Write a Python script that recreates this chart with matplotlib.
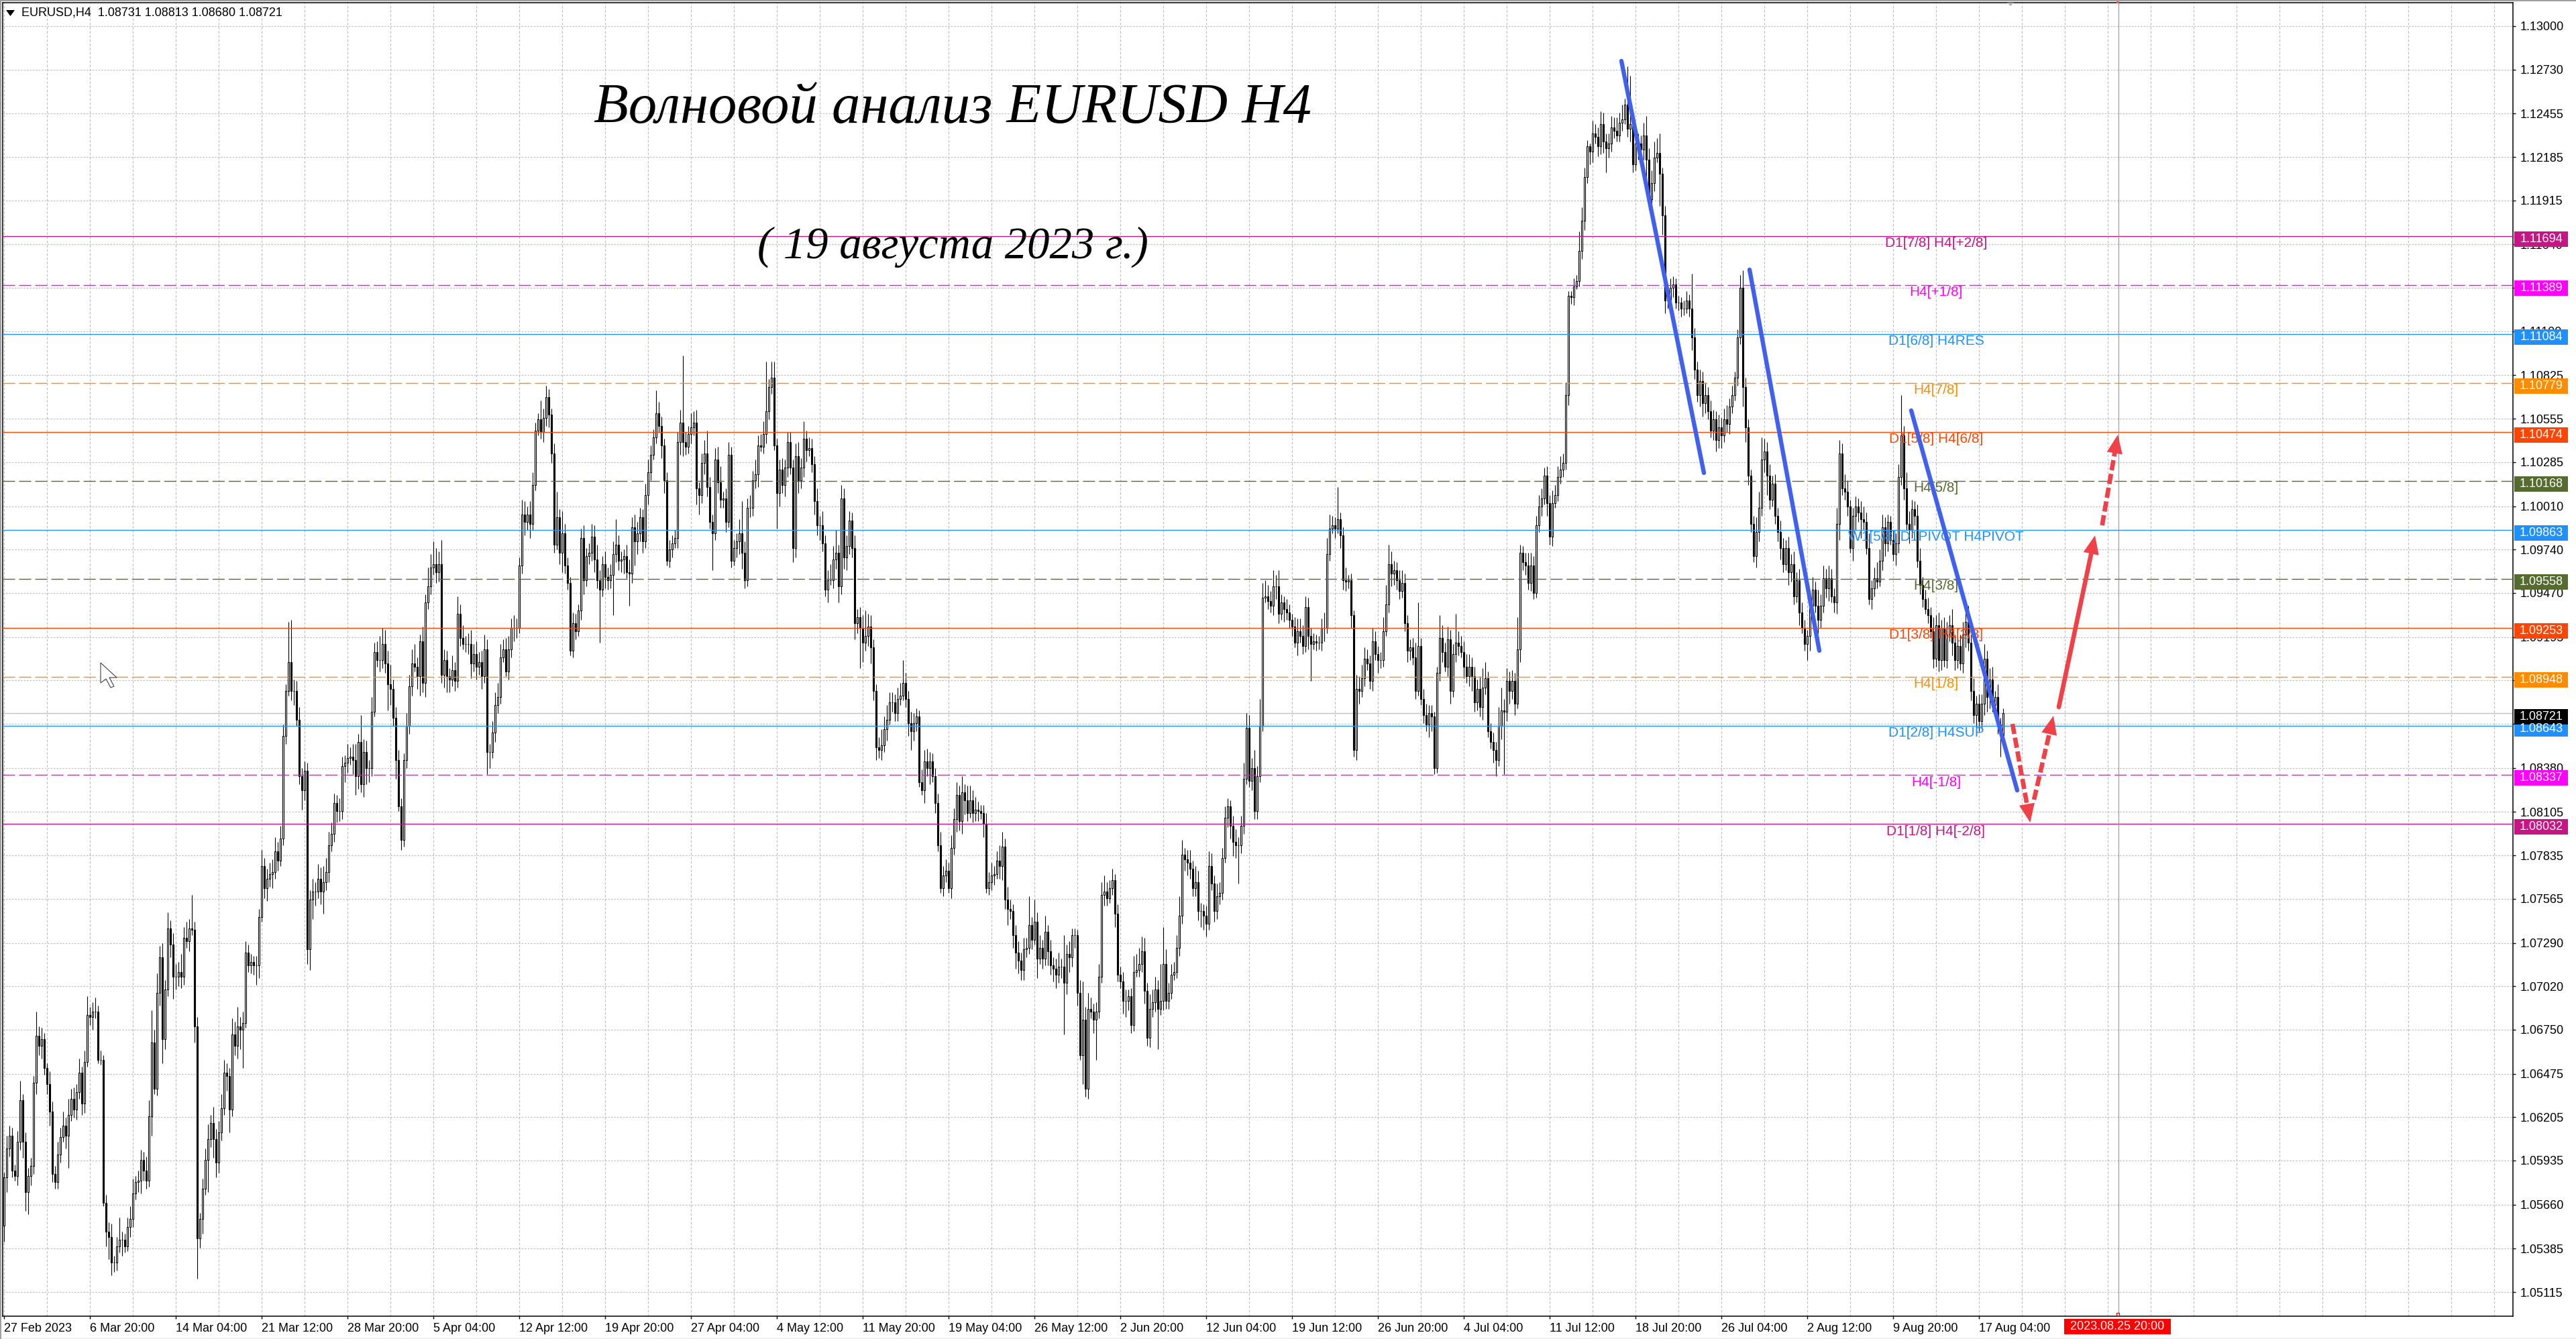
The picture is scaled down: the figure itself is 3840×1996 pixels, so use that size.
import numpy as np
import matplotlib
matplotlib.use("Agg")
import matplotlib.pyplot as plt
from matplotlib.patches import Rectangle, Polygon
from matplotlib.transforms import IdentityTransform

plt.rcParams['font.family'] = ['Liberation Sans', 'DejaVu Sans']
plt.rcParams['lines.scale_dashes'] = False

W, H = 3840, 1996

# closes of the H4 bars, in pips (10583 = 1.0583)
closes = [
    10583,10601,10609,10587,10584,10605,10631,10605,10574,10584,10590,10642,10671,10665,10669,10651,10641,10624,10585,10580,
    10597,10608,10615,10609,10622,10632,10625,10636,10648,10629,10655,10684,10683,10686,10686,10656,10656,10567,10549,10546,
    10530,10530,10540,10544,10544,10540,10552,10557,10573,10580,10581,10594,10587,10581,10621,10667,10638,10698,10720,10669,
    10700,10738,10728,10708,10708,10711,10708,10732,10730,10738,10737,10677,10545,10557,10576,10594,10607,10617,10607,10592,
    10611,10626,10648,10646,10625,10672,10665,10677,10675,10679,10723,10715,10717,10715,10715,10745,10777,10763,10769,10772,
    10773,10786,10780,10794,10858,10886,10904,10886,10886,10868,10833,10824,10836,10725,10756,10761,10761,10769,10761,10767,
    10773,10790,10797,10816,10811,10811,10839,10841,10844,10845,10843,10833,10854,10828,10848,10838,10838,10873,10910,10905,
    10905,10915,10903,10890,10887,10869,10843,10814,10793,10843,10864,10889,10903,10901,10895,10917,10891,10941,10951,10963,
    10965,10960,10965,10896,10905,10895,10893,10899,10892,10934,10919,10915,10915,10915,10903,10909,10901,10904,10895,10912,
    10848,10848,10860,10877,10882,10907,10912,10898,10912,10925,10925,10925,10964,10996,10991,10996,10990,11014,11048,11055,
    11047,11056,11069,11058,11034,10977,10994,10972,10984,10964,10953,10911,10928,10923,10936,10981,10955,10970,10972,10982,
    10968,10955,10949,10965,10957,10955,10958,10971,10977,10967,10968,10970,10960,10959,10988,10979,10984,10994,10979,11008,
    11022,11033,11044,11059,11051,11039,11017,10967,10974,10978,10981,11041,11053,11041,11038,11046,11050,11053,11012,11008,
    11028,11034,11013,10991,10984,11030,11016,11005,11006,10991,11033,10967,10975,10979,10984,10972,10955,11000,11000,11017,
    11021,11039,11038,11046,11060,11075,11081,11039,11009,11024,11014,11025,11041,11025,10975,11032,11017,11025,11043,11036,
    11037,11027,11004,10989,10989,10978,10949,10955,10955,10968,10972,10951,11006,10969,10976,10992,10975,10928,10932,10925,
    10916,10920,10926,10913,10886,10851,10849,10852,10862,10868,10879,10879,10872,10881,10883,10891,10881,10866,10861,10866,
    10870,10829,10824,10842,10838,10842,10833,10816,10790,10763,10771,10774,10763,10788,10806,10821,10805,10823,10818,10810,
    10818,10810,10812,10811,10810,10803,10763,10767,10771,10772,10780,10777,10789,10756,10750,10749,10734,10723,10718,10712,
    10725,10726,10740,10731,10742,10719,10726,10719,10736,10724,10715,10713,10709,10714,10714,10704,10722,10720,10734,10734,
    10698,10659,10681,10638,10688,10686,10681,10686,10708,10759,10761,10757,10763,10768,10747,10709,10705,10693,10693,10696,
    10678,10711,10712,10716,10724,10699,10670,10688,10692,10700,10688,10693,10716,10693,10698,10709,10711,10726,10746,10784,
    10781,10779,10775,10763,10767,10749,10749,10746,10741,10777,10766,10749,10758,10760,10782,10807,10814,10802,10792,10790,
    10790,10802,10831,10863,10830,10838,10811,10833,10864,10944,10945,10942,10939,10951,10951,10934,10941,10937,10935,10930,
    10926,10916,10923,10920,10914,10938,10920,10915,10917,10916,10916,10925,10925,10971,10987,10989,10987,10993,10983,10955,
    10954,10955,10933,10849,10887,10886,10894,10906,10903,10892,10917,10909,10905,10905,10923,10940,10965,10959,10961,10955,
    10948,10953,10928,10911,10913,10907,10886,10914,10881,10871,10865,10872,10870,10838,10897,10919,10910,10901,10918,10886,
    10909,10916,10914,10910,10901,10895,10901,10895,10879,10887,10876,10888,10894,10861,10854,10849,10843,10864,10874,10873,
    10892,10886,10892,10878,10912,10972,10966,10964,10953,10964,10947,10989,11001,11006,11020,11003,10982,11003,11008,11019,
    11024,11028,11070,11132,11131,11138,11141,11160,11179,11206,11225,11222,11233,11231,11225,11239,11228,11224,11227,11237,
    11235,11232,11240,11242,11251,11236,11239,11214,11227,11227,11223,11232,11217,11192,11202,11218,11221,11208,11182,11129,
    11129,11137,11139,11128,11128,11124,11124,11129,11124,11106,11086,11070,11079,11065,11070,11060,11048,11055,11042,11050,
    11045,11055,11052,11063,11070,11081,11106,11137,11075,11050,11020,10990,10970,10985,11000,11030,11035,11020,11005,11015,
    10995,10985,10975,10965,10975,10960,10965,10945,10955,10935,10925,10915,10920,10939,10949,10939,10930,10939,10956,10950,
    10956,10945,10941,10990,11034,11012,11010,11001,10975,10995,11001,10997,10993,10991,10975,10943,10950,10956,10954,10967,
    10988,10978,10991,10980,10971,10978,11019,11045,11012,10990,10986,10999,10995,10967,10952,10943,10937,10933,10923,10906,
    10927,10905,10925,10905,10921,10927,10916,10905,10914,10903,10921,10929,10916,10886,10871,10878,10867,10878,10906,10882,
    10893,10877,10882,10865,10858,10872,
]
# wick lengths above and below each body, in pips
up_wick = [
    3,8,6,5,4,7,12,4,6,5,5,4,15,6,7,4,3,8,6,5, 8,6,9,5,10,6,7,5,9,4,7,12,5,6,9,4,6,3,5,6,
    8,4,6,14,5,4,6,8,9,4,6,6,5,9,10,20,8,12,7,9, 6,10,5,7,8,6,11,7,10,6,21,5,6,4,6,7,9,5,10,6,
    7,9,8,6,5,10,8,12,6,7,7,5,5,4,6,5,10,5,6,7, 8,9,6,8,7,4,25,26,7,6,8,5,6,5,6,8,6,9,7,10,
    9,8,7,6,5,8,6,5,9,6,8,10,5,17,8,7,5,9,6,7, 15,10,9,8,12,6,7,6,5,4,8,7,9,12,6,4,9,5,12,8,
    14,10,8,15,7,6,5,9,5,11,6,8,5,7,9,6,8,6,7,9, 6,5,7,8,9,8,6,7,8,6,8,6,5,9,8,5,8,8,5,4,
    12,6,7,5,4,6,16,5,14,6,5,4,7,6,4,6,8,5,6,8, 7,9,6,5,8,6,7,8,16,6,5,4,7,8,6,8,7,6,5,7,
    8,6,5,14,7,6,4,5,6,5,5,6,8,42,6,5,9,7,8,4, 6,8,14,6,5,7,8,10,4,6,8,5,5,5,9,20,7,6,8,6,
    9,6,7,8,31,5,10,10,4,6,7,5,6,6,5,8,9,6,11,5, 7,6,5,8,6,9,5,6,10,8,14,5,8,6,7,6,5,8,5,6,
    8,16,8,7,5,4,6,10,8,9,6,6,5,7,8,14,6,5,7,6, 5,4,8,7,8,6,5,5,6,8,6,7,5,8,7,8,6,10,5,9,
    9,6,8,5,4,5,7,6,8,5,6,10,9,5,8,6,4,6,7,5, 7,6,18,5,14,6,8,5,10,4,7,5,6,9,5,20,6,8,4,4,
    3,8,24,8,10,7,5,6,8,8,10,6,5,7,4,6,5,6,7,4, 5,10,10,10,9,8,5,9,8,8,6,23,23,9,6,7,6,8,12,9,
    4,6,8,5,10,7,5,4,6,9,8,5,8,7,6,7,5,4,6,8, 5,6,10,9,8,6,11,6,17,9,10,7,6,10,7,10,5,4,6,5,
    4,6,8,8,7,7,6,5,5,4,4,6,10,10,9,6,5,20,4,5, 8,3,4,3,9,8,8,7,6,5,8,6,5,5,9,12,12,8,6,5,
    6,8,6,5,5,6,9,27,5,6,7,5,5,3,4,14,8,6,8,6, 6,18,7,6,7,8,8,6,6,6,8,12,10,4,5,6,5,12,14,7,
    8,6,7,5,20,5,4,6,8,8,6,6,7,6,5,6,5,8,6,7, 8,6,8,3,3,5,4,12,8,6,4,2,8,6,6,8,7,5,6,7,
    6,8,6,9,4,24,30,5,8,6,5,8,12,7,8,10,9,12,4,6, 7,6,5,4,4,3,5,6,4,22,6,5,7,6,8,5,7,6,5,8,
    6,7,9,5,6,4,5,8,11,6,5,4,5,9,10,14,8,6,7,5, 6,5,7,6,5,7,6,8,5,7,6,5,4,6,8,5,10,7,8,6,
    8,6,5,10,8,6,9,7,4,5,6,5,7,8,6,9,5,7,10,7, 8,6,5,4,6,6,8,25,6,10,8,6,5,7,8,5,6,7,5,9,
    6,8,5,7,8,6,10,5,6,7,8,6,10,5,8,5,6,6,9,5, 7,8,4,8,4,3,
]
down_wick = [
    10,9,5,4,3,6,5,10,12,14,6,5,7,6,8,4,6,9,5,4, 4,5,3,8,20,4,5,6,4,7,6,3,5,8,4,2,3,2,9,14,
    8,6,5,4,10,4,3,6,5,4,6,8,6,5,4,12,3,4,8,15, 6,4,8,14,8,6,7,5,4,6,3,10,25,6,9,4,20,5,12,9,
    6,5,4,9,14,4,6,8,12,24,3,4,5,6,12,8,3,6,8,5, 9,4,6,3,4,5,3,6,9,4,5,12,6,9,13,12,9,4,8,14,
    5,6,4,5,7,6,5,10,6,4,9,12,8,5,8,10,9,5,3,4, 7,5,6,16,10,5,12,3,6,4,5,5,6,3,8,12,6,9,4,5,
    5,7,6,5,8,10,8,4,6,4,5,3,5,6,9,5,8,5,8,4, 14,10,4,6,5,4,3,3,5,5,8,6,3,5,8,5,9,4,3,3,
    4,6,5,8,6,5,3,7,12,5,4,3,4,5,3,6,9,4,5,5, 8,5,33,4,7,6,5,25,5,6,7,9,4,20,6,15,8,5,7,4,
    6,5,3,4,4,8,8,3,4,5,3,6,8,9,5,4,6,5,10,12, 5,7,6,4,23,4,7,5,5,6,3,4,3,6,8,10,5,4,6,5,
    5,8,3,4,6,5,4,3,22,8,5,7,6,4,9,6,8,5,6,7, 4,5,8,6,9,5,4,8,3,5,6,10,5,7,8,5,6,10,6,25,
    12,5,6,10,6,8,5,6,4,7,3,6,5,5,4,3,5,8,12,6, 5,3,3,8,5,10,4,6,4,3,5,4,3,6,4,8,6,8,9,5,
    3,6,5,6,4,8,3,4,5,6,3,8,9,6,10,5,8,10,8,6, 6,5,4,6,3,12,3,6,4,9,6,8,8,5,7,32,7,9,6,8,
    8,3,18,5,6,4,8,25,4,4,7,5,3,4,8,4,4,8,10,6, 5,4,3,4,5,8,5,6,5,6,25,4,6,5,5,4,3,4,5,5,
    7,8,6,5,5,6,10,9,8,4,4,7,5,5,4,3,6,8,9,8, 24,5,5,3,4,6,5,5,4,3,3,5,4,6,8,6,4,8,5,5,
    6,3,8,4,5,4,8,23,3,5,4,5,8,3,4,3,6,3,8,6, 6,4,8,4,6,8,4,5,4,5,6,4,8,5,4,3,5,8,7,6,
    5,4,5,7,6,5,5,3,4,5,4,8,9,4,3,5,6,3,6,8, 4,5,6,3,7,4,6,9,6,5,6,8,4,4,4,8,10,4,8,39,
    6,8,5,7,3,8,5,6,4,5,4,3,4,6,4,8,5,6,3,4, 4,5,4,6,4,5,2,3,5,6,4,8,7,4,6,5,7,15,6,5,
    5,4,4,5,3,5,8,5,4,10,4,6,18,6,7,5,3,20,12,8, 5,4,6,4,5,5,4,3,5,8,6,4,7,8,6,5,4,6,7,5,
    8,4,5,6,4,3,5,4,12,9,6,5,4,7,6,5,8,12,6,4, 5,6,7,5,4,8,6,5,4,8,3,4,10,9,6,4,8,5,4,6,
    8,4,6,7,10,4,5,6,3,8,9,6,12,5,4,3,6,5,4,3, 6,8,5,3,4,7,6,5,7,4,8,5,6,4,6,5,3,5,4,6,
    5,7,6,4,5,4,8,6,5,4,6,8,5,6,5,8,6,5,7,9, 7,4,5,6,13,4,
]

price_ticks = [1.13000,1.12730,1.12455,1.12185,1.11915,1.11640,1.11370,1.11100,1.10825,1.10555,
               1.10285,1.10010,1.09740,1.09470,1.09195,1.08925,1.08655,1.08380,1.08105,1.07835,
               1.07565,1.07290,1.07020,1.06750,1.06475,1.06205,1.05935,1.05660,1.05385,1.05115]
date_labels = ["27 Feb 2023","6 Mar 20:00","14 Mar 04:00","21 Mar 12:00","28 Mar 20:00","5 Apr 04:00",
               "12 Apr 12:00","19 Apr 20:00","27 Apr 04:00","4 May 12:00","11 May 20:00","19 May 04:00",
               "26 May 12:00","2 Jun 20:00","12 Jun 04:00","19 Jun 12:00","26 Jun 20:00","4 Jul 04:00",
               "11 Jul 12:00","18 Jul 20:00","26 Jul 04:00","2 Aug 12:00","9 Aug 20:00","17 Aug 04:00"]

level_prices = [1.11694,1.11389,1.11084,1.10779,1.10474,1.10168,1.09863,1.09558,1.09253,1.08948,1.08643,1.08337,1.08032]
level_colors = ['#C71585','#FF00FF','#1E90FF','#FF8C00','#FF4500','#556B2F','#1E90FF','#556B2F','#FF4500','#FF8C00','#1E90FF','#FF00FF','#C71585']
level_dashed = [False,True,False,True,False,True,False,True,False,True,False,True,False]
level_names = ["D1[7/8] H4[+2/8]","H4[+1/8]","D1[6/8] H4RES","H4[7/8]","D1[5/8] H4[6/8]","H4[5/8]",
               "W1[5/8] D1PIVOT H4PIVOT","H4[3/8]","D1[3/8] H4[2/8]","H4[1/8]","D1[2/8] H4SUP","H4[-1/8]","D1[1/8] H4[-2/8]"]
last_price = 1.08721

# (bar, price) ends of the hand drawn lines
blue_lines = [((602.75,1.12783),(633.5,1.10217)),
              ((650.5,1.11483),(676.5,1.09110)),
              ((710.75,1.10606),(750.25,1.08240))]
red_arrows = [((748.5,1.08654),(755.1,1.08040),True),
              ((756.5,1.08182),(763.75,1.08704),True),
              ((765.75,1.08759),(779.25,1.09828),False),
              ((781.9,1.09891),(787.75,1.10455),True)]
marker_bar = 787.9

fig = plt.figure(figsize=(W/100, H/100), dpi=100, facecolor='white')
ax = fig.add_axes([4/W, 1-1962/H, (3746-4)/W, (1962-4)/H])
ax.set_xlim(-0.5, 935)
ax.set_ylim(1.04965, 1.13146)

# grid
major = np.arange(len(date_labels))*32
minor = [b for b in range(0, 935, 16) if b not in set(major)]
ax.set_xticks(major, date_labels, ha='left', fontsize=13)
ax.set_xticks(minor, minor=True)
ax.tick_params(axis='x', which='major', length=3, width=1, pad=4)
ax.tick_params(axis='x', which='minor', length=0)
ax.yaxis.tick_right()
ax.set_yticks(price_ticks, [f"{p:.5f}" for p in price_ticks], fontsize=13)
ax.tick_params(axis='y', length=3, width=1, pad=5)
ax.grid(True, axis='x', which='both', color='#c0c0c0', lw=0.9, ls=(0, (2.6, 1.9)), zorder=0)
ax.grid(True, axis='y', which='major', color='#c0c0c0', lw=0.9, ls=(0, (1.8, 1.4)), zorder=0)
ax.set_axisbelow(True)
for s in ax.spines.values():
    s.set_linewidth(1.1)

# candles
c = np.array(closes)/1e4
o = np.r_[c[0]-0.0030, c[:-1]]
n = len(c)
x = np.arange(n)
hi = np.maximum(o, c) + np.array(up_wick[:n])/1e4
lo = np.minimum(o, c) - np.array(down_wick[:n])/1e4
ax.vlines(x, lo, hi, color='black', lw=0.8, zorder=2)
rising = c >= o
ax.bar(x[rising], (c-o)[rising], bottom=o[rising], width=0.62, facecolor='white', edgecolor='black', linewidth=0.8, zorder=3)
ax.bar(x[~rising], (c-o)[~rising], bottom=o[~rising], width=0.62, facecolor='black', edgecolor='black', linewidth=0.8, zorder=3)

# levels
for p, col, dashed, name in zip(level_prices, level_colors, level_dashed, level_names):
    ax.axhline(p, color=col, lw=1.0, ls=(0, (13, 4.3)) if dashed else '-', zorder=4)
    ax.annotate(name, xy=(720, p), xytext=(0, -8), textcoords='offset points', ha='center', va='center',
                color=col, fontsize=15, zorder=5)
ax.axhline(last_price, color='#c0c0c0', lw=1.0, zorder=1)
ax.axvline(marker_bar, color='#909090', lw=0.72, zorder=4)

# hand drawn lines and arrows
for a, b in blue_lines:
    ax.plot([a[0], b[0]], [a[1], b[1]], color='#4060F0', lw=4.6, solid_capstyle='round', zorder=6)
fig.canvas.draw()
for a, b, dashed in red_arrows:
    pa, pb = ax.transData.transform([a, b])
    f = 1 - 24/np.hypot(*(pb-pa))
    mid = (a[0]+(b[0]-a[0])*f, a[1]+(b[1]-a[1])*f)
    ax.plot([a[0], mid[0]], [a[1], mid[1]], color='#F04048', lw=4.8,
            ls=(0, (11, 4)) if dashed else '-', dash_capstyle='butt', solid_capstyle='round', zorder=6)
    ax.annotate('', xy=b, xytext=mid, zorder=6,
                arrowprops=dict(arrowstyle='-|>,head_length=1.0,head_width=0.42', color='#F04048', lw=0, mutation_scale=20,
                                shrinkA=0, shrinkB=0))

# handwriting
fig.text(1420/W, 1-163/H, "Волновой анализ EURUSD H4", family='Liberation Serif', style='italic',
         fontsize=61, ha='center', va='center', color='black')
fig.text(1420/W, 1-368/H, "( 19 августа 2023 г.)", family='Liberation Serif', style='italic',
         fontsize=48, ha='center', va='center', color='black')
fig.text(32/W, 1-19/H, "EURUSD,H4  1.08731 1.08813 1.08680 1.08721", fontsize=13, ha='left', va='center')


def add_px(patch):
    patch.set_transform(IdentityTransform())
    fig.add_artist(patch)
    patch.set_transform(IdentityTransform())


def price_tag(price, col):
    ypx = ax.transData.transform((0, price))[1] - 5
    add_px(Rectangle((3748, ypx-11.5), 80, 23, facecolor=col, edgecolor='none', zorder=2))
    fig.text(3788/W, ypx/H, f"{price:.5f}", color='white', fontsize=13, ha='center', va='center', zorder=3)


for p, col in zip(level_prices, level_colors):
    price_tag(p, col)
price_tag(last_price, 'black')

# red time tag, chart symbol triangle, mouse pointer and window edges
add_px(Rectangle((3077, H-1989), 159, 23, facecolor='red', edgecolor='none', zorder=2))
fig.text(3156.5/W, 1-1977.5/H, "2023.08.25 20:00", color='white', fontsize=13, ha='center', va='center', zorder=3)
add_px(Rectangle((3155, H-1961), 4, 4, facecolor='white', edgecolor='red', lw=1, zorder=2))
add_px(Polygon([(9, H-15), (22, H-15), (15.5, H-24)], closed=True, facecolor='black', edgecolor='none', zorder=2))
add_px(Polygon([(2992, H-4), (3002, H-4), (2997, H-9)], closed=True, facecolor='#b0b0b0', edgecolor='none', zorder=2))
add_px(Rectangle((3155, H-5), 4, 3, facecolor='#e06060', edgecolor='none', zorder=2))
pointer = [(150, 988), (150, 1018), (158, 1012), (165, 1025), (170, 1023), (163, 1010), (174, 1010)]
add_px(Polygon([(a, H-b) for a, b in pointer], closed=True, facecolor='white', edgecolor='#404040', lw=0.8, zorder=2))
add_px(Rectangle((0, H-2), W, 2, facecolor='#a0a0a0', edgecolor='none', zorder=2))
add_px(Rectangle((0, 0), W, 2, facecolor='#f0f0f0', edgecolor='none', zorder=2))
add_px(Rectangle((0, 0), 2, H, facecolor='#a0a0a0', edgecolor='none', zorder=2))

fig.savefig('out.png', dpi=100)
